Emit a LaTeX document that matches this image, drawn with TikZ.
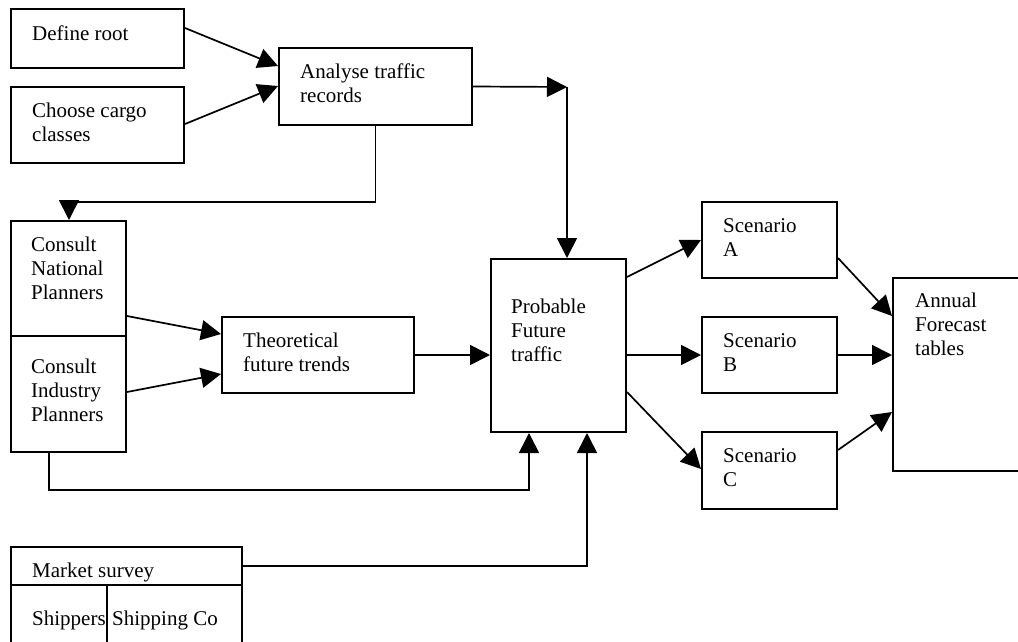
\documentclass[tikz,border=0pt]{standalone}
\usepackage{fontspec}
\setmainfont{Liberation Serif}
\usetikzlibrary{arrows.meta,calc}
\newcommand{\fl}{\rule{0pt}{16pt}}
\begin{document}
\begin{tikzpicture}[x=1pt,y=-1pt,
  box/.style={draw, line width=2pt, inner sep=0pt, fill=none},
  txt/.style={anchor=north west, inner sep=0pt, align=left,
    font=\fontsize{21}{24.3}\selectfont},
  arr/.style={line width=1.7pt, -{Triangle[length=20pt,width=20pt]}},
  ln/.style={line width=1.7pt}]
\clip (0,0) rectangle (1018,641);
\fill[white] (0,0) rectangle (1018,641);
% boxes
\node[box, minimum width=173, minimum height=59] (def) at (97.5,38.5) {};
\node[box, minimum width=173, minimum height=76] (cho) at (97.5,125) {};
\node[box, minimum width=193, minimum height=77] (ana) at (375.5,86.5) {};
\node[box, minimum width=115, minimum height=115] (cnat) at (68.5,278.5) {};
\node[box, minimum width=115, minimum height=116] (cind) at (68.5,394) {};
\node[box, minimum width=192, minimum height=76] (theo) at (318,355) {};
\node[box, minimum width=135, minimum height=173] (prob) at (558.5,345.5) {};
\node[box, minimum width=135, minimum height=76] (scA) at (769.5,240) {};
\node[box, minimum width=135, minimum height=76] (scB) at (769.5,355) {};
\node[box, minimum width=135, minimum height=77] (scC) at (769.5,470.5) {};
\node[box, minimum width=129, minimum height=193] (ann) at (957.5,374.5) {};
\node[box, minimum width=231, minimum height=38] (mkt) at (126.5,566) {};
\node[box, minimum width=96, minimum height=75] (shp) at (59,622.5) {};
\node[box, minimum width=135, minimum height=75] (shc) at (174.5,622.5) {};
% texts
\node[txt] (tdef) at (32,24) {\fl Define root};
\node[txt] (tcho) at (32,101) {\fl Choose cargo\\classes};
\node[txt] (tana) at (300,62) {\fl Analyse traffic\\records};
\node[txt] (tcnat) at (31,235) {\fl Consult\\National\\Planners};
\node[txt] (tcind) at (31,357) {\fl Consult\\Industry\\Planners};
\node[txt] (ttheo) at (243,331) {\fl Theoretical\\future trends};
\node[txt] (tprob) at (511,297) {\fl Probable\\Future\\traffic};
\node[txt] (tscA) at (723,216) {\fl Scenario\\A};
\node[txt] (tscB) at (723,331) {\fl Scenario\\B};
\node[txt] (tscC) at (723,446) {\fl Scenario\\C};
\node[txt] (tann) at (915,291) {\fl Annual\\Forecast\\tables};
\node[txt] (tmkt) at (32,561) {\fl Market survey};
\node[txt] (tshp) at (32,609) {\fl Shippers};
\node[txt] (tshc) at (112,609) {\fl Shipping Co};
% connector helper points
\coordinate (c1) at (567,87);
\coordinate (c2) at (69,202);
\coordinate (c3) at (49,490);
\coordinate (c4) at (529,490);
\coordinate (c5) at (587,566);
% connectors
\draw[arr] ($(def.north east)+(0,20)$) -- ($(ana.north west)+(0,19)$);
\draw[arr] ($(cho.north east)+(0,38)$) -- ($(ana.north west)+(0,39)$);
\draw[arr] (ana.east) -- (c1);
\draw[arr] (c1) -- (c1 |- prob.north);
\draw[arr] (ana.south) |- (c2) -- (c2 |- cnat.north);
\draw[arr] ($(cnat.north east)+(0,96)$) -- ($(theo.north west)+(0,18)$);
\draw[arr] ($(cind.north east)+(0,57)$) -- ($(theo.north west)+(0,58)$);
\draw[arr] (theo.east) -- (prob.west |- theo.east);
\draw[arr] ($(prob.north east)+(0,19)$) -- ($(scA.north west)+(0,39)$);
\draw[arr] (prob.east |- scB.west) -- (scB.west);
\draw[arr] ($(prob.north east)+(0,134)$) -- ($(scC.north west)+(0,38)$);
\draw[arr] ($(scA.north east)+(0,57)$) -- ($(ann.north west)+(0,39)$);
\draw[arr] (scB.east) -- (ann.west |- scB.east);
\draw[arr] ($(scC.north east)+(0,19)$) -- ($(ann.north west)+(0,135)$);
\draw[arr] (cind.south -| c3) -- (c3) -- (c4) -- (c4 |- prob.south);
\draw[arr] (mkt.east) -- (c5) -- (c5 |- prob.south);
\end{tikzpicture}
\end{document}
